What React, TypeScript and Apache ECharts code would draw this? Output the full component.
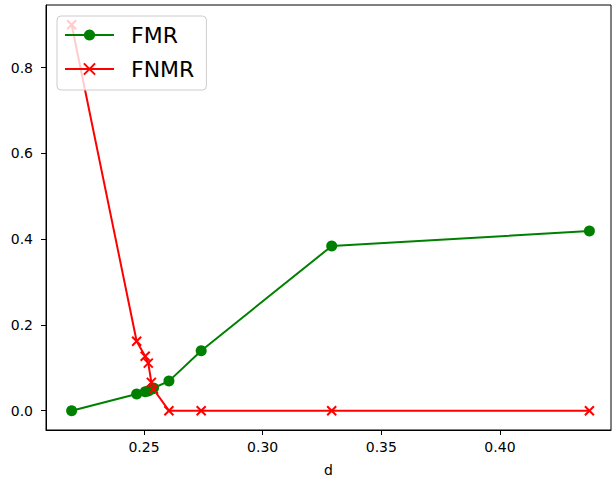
import React, { useEffect, useRef } from "react";
import * as echarts from "echarts";

const dValues = [0.2195, 0.2469, 0.2505, 0.2518, 0.2531, 0.2540, 0.2605, 0.2741, 0.3291, 0.4377];
const fmrValues = [0, 0.039, 0.044, 0.046, 0.05, 0.053, 0.069, 0.14, 0.384, 0.419];
const fnmrValues = [0.9, 0.162, 0.127, 0.111, 0.066, 0.05, 0, 0, 0, 0];
const xTicks = [0.25, 0.3, 0.35, 0.4];
const yTicks = [0, 0.2, 0.4, 0.6, 0.8];

const FONT = "DejaVu Sans";

export default function App() {
  const ref = useRef<HTMLDivElement>(null);
  useEffect(() => {
    if (!ref.current) return;
    const chart = echarts.init(ref.current, undefined, { renderer: "svg" });
    const xMark = "path://M0,0L10,10M10,0L0,10";
    chart.setOption({
      animation: false,
      grid: {
        left: 46,
        right: 2,
        top: 5,
        bottom: 47,
        containLabel: false,
        outerBoundsMode: "none",
        show: true,
        borderColor: "#000",
        borderWidth: 1,
        backgroundColor: "transparent",
      },
      legend: {
        orient: "vertical",
        left: 57,
        top: 16,
        padding: [6, 12, 8, 7],
        itemWidth: 49,
        itemHeight: 14,
        itemGap: 8,
        backgroundColor: "rgba(255,255,255,0.8)",
        borderColor: "#cccccc",
        borderWidth: 1,
        borderRadius: 4,
        textStyle: {
          fontFamily: FONT,
          fontSize: 22,
          color: "#000",
          lineHeight: 26,
          padding: [0, 0, 0, 12],
        },
        data: ["FMR", "FNMR"],
      },
      xAxis: {
        type: "value",
        min: 0.2087,
        max: 0.4468,
        name: "d",
        nameLocation: "middle",
        nameGap: 33,
        nameTextStyle: { fontFamily: FONT, fontSize: 14, color: "#000" },
        axisLine: { show: true, onZero: false, lineStyle: { color: "#000", width: 1 } },
        axisTick: { show: true, customValues: xTicks, length: 5, lineStyle: { color: "#000" } },
        axisLabel: {
          customValues: xTicks,
          formatter: (v: number) => v.toFixed(2),
          fontFamily: FONT,
          fontSize: 14,
          color: "#000",
          margin: 10,
        },
        splitLine: { show: false },
      },
      yAxis: {
        type: "value",
        min: -0.045,
        max: 0.946,
        axisLine: { show: true, onZero: false, lineStyle: { color: "#000", width: 1 } },
        axisTick: { show: true, customValues: yTicks, length: 5, lineStyle: { color: "#000" } },
        axisLabel: {
          customValues: yTicks,
          formatter: (v: number) => v.toFixed(1),
          fontFamily: FONT,
          fontSize: 14,
          color: "#000",
          margin: 13,
        },
        splitLine: { show: false },
      },
      series: [
        {
          name: "FMR",
          type: "line",
          data: dValues.map((d, i) => [d, fmrValues[i]]),
          symbol: "circle",
          symbolSize: 11,
          showAllSymbol: true,
          lineStyle: { color: "#008000", width: 2 },
          itemStyle: { color: "#008000" },
          emphasis: { disabled: true },
        },
        {
          name: "FNMR",
          type: "line",
          data: dValues.map((d, i) => [d, fnmrValues[i]]),
          symbol: xMark,
          symbolSize: 9,
          showAllSymbol: true,
          lineStyle: { color: "#ff0000", width: 2 },
          itemStyle: { color: "#ff0000", borderColor: "#ff0000", borderWidth: 2 },
          emphasis: { disabled: true },
        },
      ],
    });
    return () => chart.dispose();
  }, []);
  return (
    <div
      ref={ref}
      style={{ position: "fixed", left: 0, top: 0, width: 613, height: 477, background: "#fff" }}
    />
  );
}
